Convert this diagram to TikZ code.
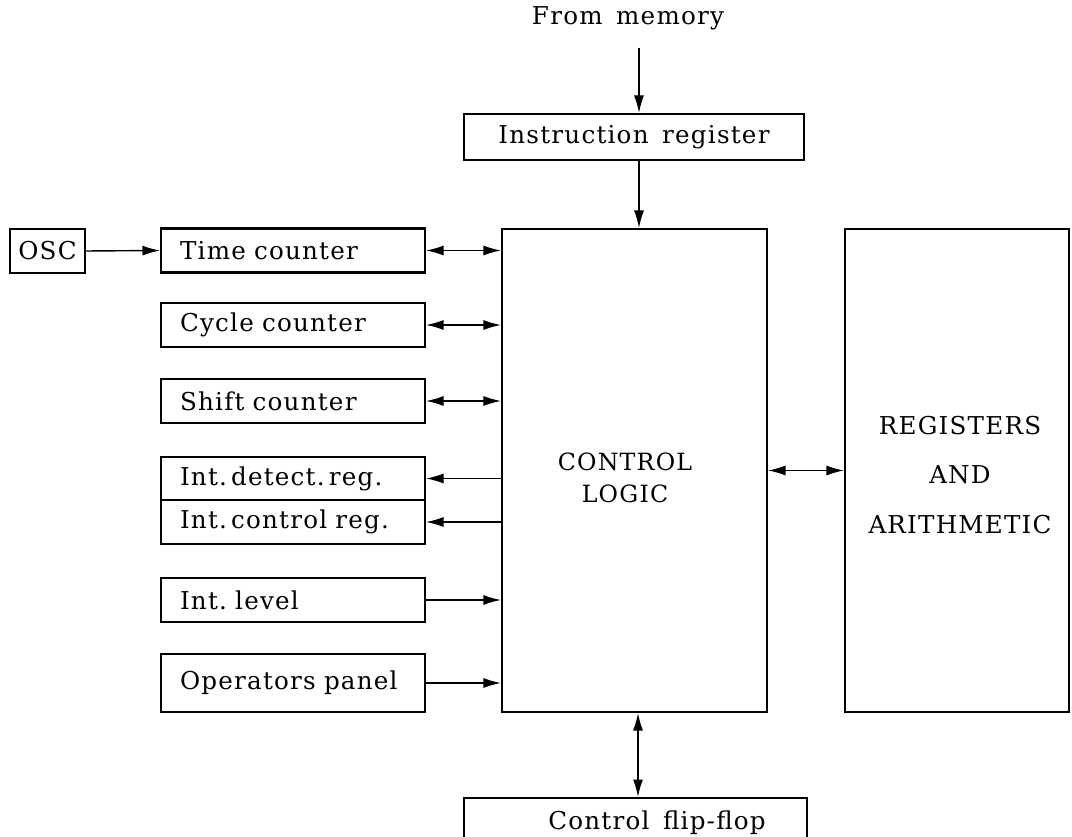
\documentclass[tikz,border=0pt]{standalone}
\usepackage{fontspec}
\setmainfont{DejaVu Serif}[LetterSpace=5,WordSpace=1.5]
\usetikzlibrary{arrows.meta}
\begin{document}
\begin{tikzpicture}[x=0.02cm,y=-0.02cm,
  font=\fontsize{14}{17}\selectfont,
  box/.style={draw,line width=1.2pt,inner sep=0pt,minimum height=0.88cm},
  lbox/.style={box,minimum width=5.28cm,text width=4.52cm,inner xsep=0.38cm,align=left},
  conn/.style={line width=0.8pt},
  tip/.style={-{Latex[length=3.5mm,width=2mm]}},
  dtip/.style={{Latex[length=3.5mm,width=2mm]}-{Latex[length=3.5mm,width=2mm]}}]
\path[use as bounding box] (0,0) rectangle (1072,837);
\clip (0,0) rectangle (1072,837);
% top
\node (mem) at (628,18) {From memory};
\coordinate (memtop) at (639,48);
\node[box,minimum width=6.8cm,minimum height=0.92cm] (ir) at (634,137) {Instruction register};
% central blocks
\node[box,minimum width=5.3cm,minimum height=9.66cm] (ctrl) at (634.5,470.5) {};
\node[align=center,font=\fontsize{13.5}{16}\selectfont] (ctrltxt) at (625,478) {CONTROL\\[0.9mm]LOGIC};
\node[box,minimum width=4.48cm,minimum height=9.66cm] (regs) at (957,470.5) {};
\node[align=center] (regtxt) at (960,475) {REGISTERS\\[4mm]AND\\[4mm]ARITHMETIC};
% left boxes
\node[box,minimum width=1.5cm,minimum height=0.88cm] (osc) at (47.5,251) {OSC};
\node[lbox] (time) at (293,250.5) {Time counter};
\node[lbox] (cycle) at (293,325) {Cycle counter};
\node[lbox] (shift) at (293,401) {Shift counter};
\node[lbox,minimum height=0.86cm] (detect) at (293,478.5) {Int.\,detect.\,reg.};
\node[lbox] (creg) at (293,522) {Int.\,control reg.};
\node[lbox] (level) at (293,600) {Int.\ level};
\node[lbox,minimum height=1.16cm] (oper) at (293,683) {Operators panel};
% bottom
\node[box,minimum width=6.86cm,minimum height=1.1cm,anchor=north] (ff) at (635.5,797) {};
\node (fftxt) at (657,823) {Control f{}lip-f{}lop};
% connectors
\draw[conn,tip] (memtop) -- (ir.north -| memtop);
\draw[conn,tip] (ir.south -| memtop) -- (ctrl.north -| memtop);
\draw[conn,tip] (osc.east) -- (time.west);
\draw[conn,dtip] (time.east) -- (time.east -| ctrl.west);
\draw[conn,dtip] (cycle.east) -- (cycle.east -| ctrl.west);
\draw[conn,dtip] (shift.east) -- (shift.east -| ctrl.west);
\draw[conn,tip] (detect.east -| ctrl.west) -- (detect.east);
\draw[conn,tip] (creg.east -| ctrl.west) -- (creg.east);
\draw[conn,tip] (level.east) -- (level.east -| ctrl.west);
\draw[conn,tip] (oper.east) -- (oper.east -| ctrl.west);
\draw[conn,dtip] (ctrl.east) -- (regs.west);
\coordinate (ffx) at (638,700);
\draw[conn,dtip] (ctrl.south -| ffx) -- (ff.north -| ffx);
\end{tikzpicture}
\end{document}
